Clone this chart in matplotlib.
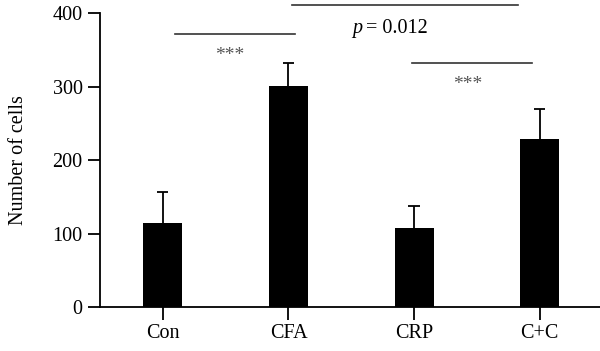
import numpy as np
import matplotlib.pyplot as plt

groups = ['Con', 'CFA', 'CRP', 'C+C']
means = [114, 301, 108, 229]
errs = [42, 31, 29, 40]

plt.rcParams['font.family'] = ['Liberation Serif', 'DejaVu Serif']

fig = plt.figure(figsize=(6, 3.51), dpi=100)
ax = fig.add_axes([0.1667, 0.125, 0.8333, 0.8376])

x = np.arange(len(groups))
tops = np.array(means) + np.array(errs)
ax.bar(x, means, width=0.31, color='black', zorder=2)
# upper error bars only
ax.vlines(x, means, tops, color='black', lw=1.3, zorder=1)
ax.hlines(tops, x - 0.045, x + 0.045, color='black', lw=1.3, zorder=1)

ax.set_xlim(-0.5, 3.48)
ax.set_ylim(0, 400)
ax.set_yticks([0, 100, 200, 300, 400])
ax.set_xticks(x)
ax.set_xticklabels(groups)
ax.set_ylabel('Number of cells', fontsize=14.5, labelpad=18)
ax.tick_params(labelsize=14.5, width=1.3, length=9, direction='out')
for s in ['top', 'right']:
    ax.spines[s].set_visible(False)
for s in ['left', 'bottom']:
    ax.spines[s].set_linewidth(1.3)

# significance annotations
ax.plot([0.1, 1.05], [371, 371], color='#333333', lw=1.2, clip_on=False)
ax.text(0.53, 342, '***', ha='center', va='center', fontsize=14, color='#555555')
ax.plot([1.03, 2.83], [411, 411], color='#333333', lw=1.2, clip_on=False)
ax.text(1.51, 379, 'p', ha='left', va='center', fontsize=14.5, style='italic')
ax.text(1.62, 379, '= 0.012', ha='left', va='center', fontsize=14.5)
ax.plot([1.98, 2.94], [332, 332], color='#333333', lw=1.2, clip_on=False)
ax.text(2.43, 303, '***', ha='center', va='center', fontsize=14, color='#555555')

fig.savefig('out.png', dpi=100)
